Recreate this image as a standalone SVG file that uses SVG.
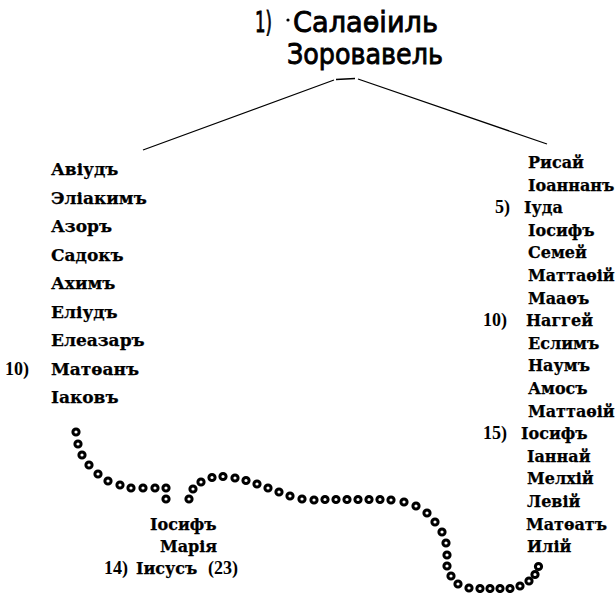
<svg xmlns="http://www.w3.org/2000/svg" xmlns:xlink="http://www.w3.org/1999/xlink" width="616" height="593" viewBox="0 0 616 593">
<style>
.ttl{font-family:"DejaVu Sans","Liberation Sans",sans-serif;font-size:29px;fill:#000;stroke:#000;stroke-width:0.9}
.n{font-family:"DejaVu Serif","Liberation Serif",serif;font-weight:bold;fill:#000;stroke:#000;stroke-width:0.25}
.l{font-size:17px}
.r{font-size:16px}
.num{font-family:"Liberation Serif","DejaVu Serif",serif;font-weight:bold;fill:#000;font-size:18px}
.ln{fill:none;stroke:#000;stroke-width:1.3}
.d{fill:#fff;stroke:#000;stroke-width:3}
</style>
<defs><circle id="d" class="d" r="3.1"/></defs>
<rect width="616" height="593" fill="#fff"/>
<g id="title">
<text class="ttl" x="255" y="32" textLength="17" lengthAdjust="spacingAndGlyphs">1)</text>
<circle cx="288" cy="20" r="1.6" fill="#000"/>
<text class="ttl" x="293" y="32" textLength="145" lengthAdjust="spacingAndGlyphs">Салаѳіиль</text>
<text class="ttl" x="287" y="64" textLength="156" lengthAdjust="spacingAndGlyphs">Зоровавель</text>
</g>
<g id="connectors">
<path class="ln" d="M143 150 L334 80 M336 79.5 L355 78.5 M358 79 L547 144"/>
<g id="dots">
<use xlink:href="#d" x="76" y="432"/><use xlink:href="#d" x="78" y="444"/><use xlink:href="#d" x="82" y="455"/><use xlink:href="#d" x="89" y="465"/><use xlink:href="#d" x="98" y="474"/><use xlink:href="#d" x="108" y="481"/><use xlink:href="#d" x="120" y="485"/><use xlink:href="#d" x="131" y="488"/><use xlink:href="#d" x="143" y="488"/><use xlink:href="#d" x="155" y="488"/><use xlink:href="#d" x="166" y="488"/><use xlink:href="#d" x="166" y="499"/>
<use xlink:href="#d" x="189" y="499"/><use xlink:href="#d" x="193" y="489"/><use xlink:href="#d" x="201" y="482"/><use xlink:href="#d" x="212" y="477.5"/><use xlink:href="#d" x="223" y="476.5"/><use xlink:href="#d" x="235" y="478"/><use xlink:href="#d" x="246" y="480.5"/><use xlink:href="#d" x="257" y="484"/><use xlink:href="#d" x="268" y="488"/><use xlink:href="#d" x="279" y="492"/><use xlink:href="#d" x="290" y="496"/><use xlink:href="#d" x="302" y="499"/><use xlink:href="#d" x="314" y="500"/><use xlink:href="#d" x="325" y="499.5"/><use xlink:href="#d" x="336" y="499.5"/><use xlink:href="#d" x="347" y="499.5"/><use xlink:href="#d" x="358" y="499.5"/><use xlink:href="#d" x="369" y="499.5"/><use xlink:href="#d" x="380" y="499.5"/><use xlink:href="#d" x="391" y="500"/><use xlink:href="#d" x="404" y="502"/><use xlink:href="#d" x="416" y="506"/><use xlink:href="#d" x="427" y="513"/><use xlink:href="#d" x="435" y="522"/><use xlink:href="#d" x="442" y="532"/><use xlink:href="#d" x="446" y="543"/><use xlink:href="#d" x="447" y="555"/><use xlink:href="#d" x="447" y="566"/><use xlink:href="#d" x="451" y="576"/><use xlink:href="#d" x="458" y="584"/><use xlink:href="#d" x="469" y="588"/><use xlink:href="#d" x="480" y="588.5"/><use xlink:href="#d" x="490" y="588.5"/><use xlink:href="#d" x="500" y="588.5"/><use xlink:href="#d" x="510" y="588.5"/><use xlink:href="#d" x="520" y="586"/><use xlink:href="#d" x="529" y="581"/><use xlink:href="#d" x="535" y="574.5"/><use xlink:href="#d" x="538.5" y="566.5"/>
</g>
</g>
<g id="left">
<text id="n-aviud" class="n l" x="51" y="175">Авіудъ</text>
<text id="n-eliakim" class="n l" x="51" y="203.5">Эліакимъ</text>
<text id="n-azor" class="n l" x="51" y="232">Азоръ</text>
<text id="n-sadok" class="n l" x="51" y="260.5">Садокъ</text>
<text id="n-ahim" class="n l" x="51" y="289">Ахимъ</text>
<text id="n-eliud" class="n l" x="51" y="317.5">Еліудъ</text>
<text id="n-eleazar" class="n l" x="51" y="346">Елеазаръ</text>
<g id="n-matfan"><text class="num" x="5" y="374.5">10)</text><text class="n l" x="51" y="374.5">Матѳанъ</text></g>
<text id="n-iakov" class="n l" x="51" y="403">Іаковъ</text>
</g>
<g id="right">
<text id="n-risai" class="n r" x="528" y="168">Рисай</text>
<text id="n-ioannan" class="n r" x="528" y="190.6">Іоаннанъ</text>
<g id="n-iuda"><text class="num" x="495" y="213.2">5)</text><text class="n r" x="524" y="213.2">Іуда</text></g>
<text id="n-iosif1" class="n r" x="528" y="235.8">Іосифъ</text>
<text id="n-semei" class="n r" x="528" y="258.4">Семей</text>
<text id="n-mattafii1" class="n r" x="528" y="281">Маттаѳій</text>
<text id="n-maaf" class="n r" x="528" y="303.6">Мааѳъ</text>
<g id="n-naggei"><text class="num" x="483" y="326.2">10)</text><text class="n r" x="526" y="326.2">Наггей</text></g>
<text id="n-eslim" class="n r" x="528" y="348.8">Еслимъ</text>
<text id="n-naum" class="n r" x="528" y="371.4">Наумъ</text>
<text id="n-amos" class="n r" x="528" y="394">Амосъ</text>
<text id="n-mattafii2" class="n r" x="528" y="416.6">Маттаѳій</text>
<g id="n-iosif2"><text class="num" x="483" y="439.2">15)</text><text class="n r" x="521" y="439.2">Іосифъ</text></g>
<text id="n-iannai" class="n r" x="527" y="461.8">Іаннай</text>
<text id="n-melhii" class="n r" x="527" y="484.4">Мелхій</text>
<text id="n-levii" class="n r" x="527" y="507">Левій</text>
<text id="n-matfat" class="n r" x="526" y="529.6">Матѳатъ</text>
<text id="n-ilii" class="n r" x="527" y="552.2">Илій</text>
</g>
<g id="bottom">
<text id="n-iosif3" class="n r" x="150" y="530">Іосифъ</text>
<text id="n-maria" class="n r" x="160" y="552">Марія</text>
<g id="n-iisus"><text class="num" x="104" y="574">14)</text><text class="n r" x="136" y="574">Іисусъ</text><text class="num" x="208" y="574">(23)</text></g>
</g>
</svg>
